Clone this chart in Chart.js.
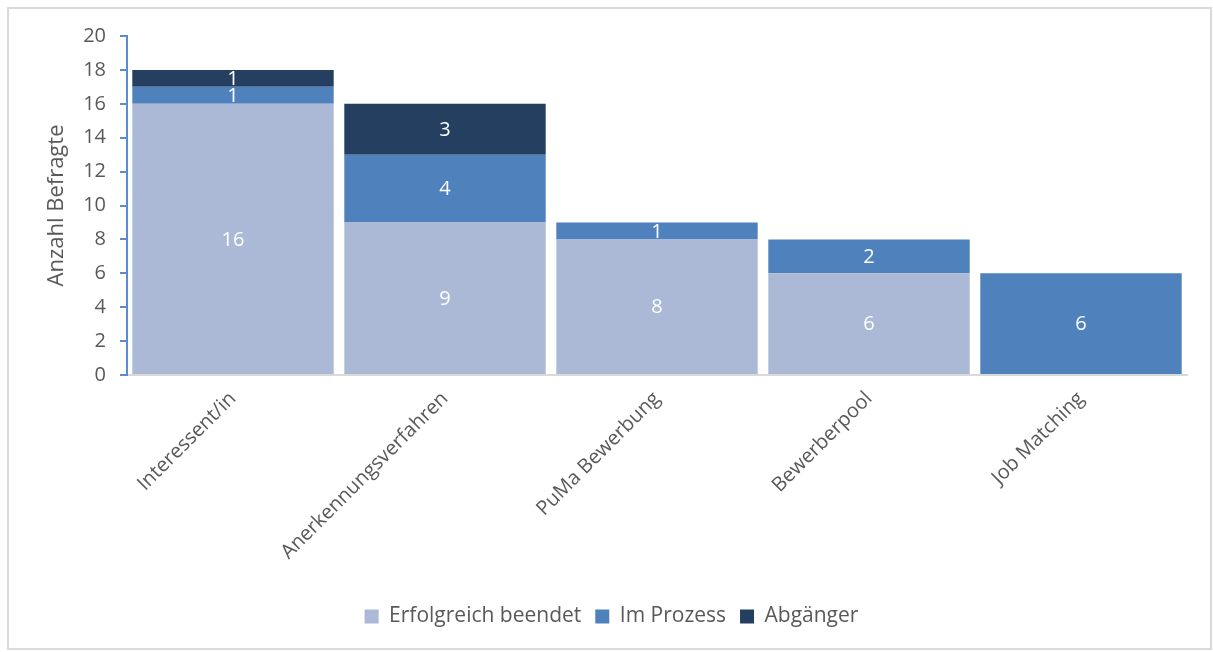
<!DOCTYPE html>
<html>
<head>
<meta charset="utf-8">
<script src="https://cdn.jsdelivr.net/npm/chart.js@4"></script>
<style>
  html, body { margin: 0; padding: 0; background: #fff; }
  #wrap { position: relative; width: 1213px; height: 652px; }
  #frame { position: absolute; left: 7px; top: 7px; width: 1201px; height: 639px;
           border: 2px solid #d9d9d9; pointer-events: none; }
</style>
</head>
<body>
<div id="wrap">
  <canvas id="myChart" width="1213" height="652"></canvas>
  <div id="frame"></div>
</div>
<script>
// Kategorien und Werte
var categories = ['Interessent/in', 'Anerkennungsverfahren', 'PuMa Bewerbung', 'Bewerberpool', 'Job Matching'];
var erfolgreich = [16, 9, 8, 6, 0];
var imProzess = [1, 4, 1, 2, 6];
var abgaenger = [1, 3, 0, 0, 0];
var yTicks = [0, 2, 4, 6, 8, 10, 12, 14, 16, 18, 20];

var fontName = "'Open Sans', 'Noto Sans', sans-serif";
var textColor = '#595959';

// Werte in die Segmente schreiben
var valueLabels = {
    id: 'valueLabels',
    afterDatasetsDraw: function (chart) {
        var ctx = chart.ctx;
        ctx.save();
        ctx.fillStyle = '#ffffff';
        ctx.font = '20px ' + fontName;
        ctx.textAlign = 'center';
        ctx.textBaseline = 'middle';
        chart.data.datasets.forEach(function (ds, i) {
            var meta = chart.getDatasetMeta(i);
            meta.data.forEach(function (bar, j) {
                var v = ds.data[j];
                if (!v) return;
                ctx.fillText(String(v), bar.x, (bar.y + bar.base) / 2 + 1);
            });
        });
        ctx.restore();
    }
};

var ctx = document.getElementById('myChart');
var myChart = new Chart(ctx, {
    type: 'bar',
    data: {
        labels: categories,
        datasets: [
            { label: 'Erfolgreich beendet', data: erfolgreich, backgroundColor: '#abb9d7' },
            { label: 'Im Prozess', data: imProzess, backgroundColor: '#4f81bd' },
            { label: 'Abgänger', data: abgaenger, backgroundColor: '#253f60' }
        ]
    },
    options: {
        responsive: false,
        animation: false,
        layout: { padding: { left: 36, right: 26, top: 36, bottom: 15 } },
        datasets: { bar: { categoryPercentage: 1.0, barPercentage: 0.95 } },
        scales: {
            x: {
                stacked: true,
                grid: { display: false },
                border: { display: true, color: '#d9d9d9', width: 2 },
                ticks: {
                    color: textColor,
                    font: { family: fontName, size: 20 },
                    minRotation: 45,
                    maxRotation: 45,
                    padding: 4
                },
                afterFit: function (scale) { scale.height = 217; }
            },
            y: {
                stacked: true,
                min: 0,
                max: 20,
                afterBuildTicks: function (scale) {
                    scale.ticks = yTicks.map(function (v) { return { value: v }; });
                },
                grid: { drawOnChartArea: false, drawTicks: true, tickLength: 7, color: '#5b8bd0', lineWidth: 2 },
                border: { display: true, color: '#5b8bd0', width: 2 },
                ticks: {
                    color: textColor,
                    font: { family: fontName, size: 20 },
                    padding: 14
                },
                title: {
                    display: true,
                    text: 'Anzahl Befragte',
                    color: textColor,
                    font: { family: fontName, size: 22 },
                    padding: { top: 8, bottom: 0 }
                },
                afterFit: function (scale) { scale.width = 91; }
            }
        },
        plugins: {
            legend: {
                position: 'bottom',
                labels: {
                    color: textColor,
                    font: { family: fontName, size: 21 },
                    boxWidth: 14,
                    boxHeight: 14,
                    padding: 14
                }
            },
            tooltip: { enabled: false }
        }
    },
    plugins: [valueLabels]
});
</script>
</body>
</html>
